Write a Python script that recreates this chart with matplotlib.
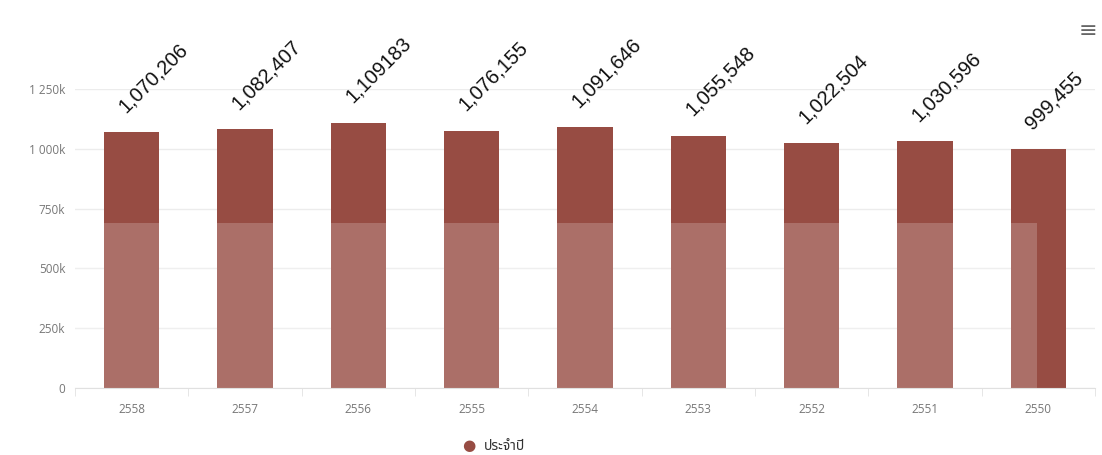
import matplotlib
matplotlib.use("Agg")
import matplotlib.pyplot as plt
from matplotlib import font_manager
from matplotlib.ft2font import FT2Font
from matplotlib.ticker import FixedLocator

# ---- data ----
years = ["2558", "2557", "2556", "2555", "2554", "2553", "2552", "2551", "2550"]
values = [1070206, 1082407, 1109183, 1076155, 1091646, 1055548, 1022504, 1030596, 999455]
value_labels = ["1,070,206", "1,082,407", "1,109183", "1,076,155", "1,091,646",
                "1,055,548", "1,022,504", "1,030,596", "999,455"]
y_ticks = [0, 250000, 500000, 750000, 1000000, 1250000]
y_tick_labels = ["0", "250k", "500k", "750k", "1 000k", "1 250k"]
series_name = "ประจำปี"
faded_level = 688000  # lighter lower band seen in the scan

# ---- fonts ----
def font_with(ch, prefer=()):
    cands = []
    for f in font_manager.fontManager.ttflist:
        try:
            if ord(ch) in FT2Font(f.fname).get_charmap():
                cands.append(f.name)
        except Exception:
            pass
    for p in prefer:
        if p in cands:
            return p
    return cands[0] if cands else "DejaVu Sans"

thai_font = font_with("ป", prefer=("Noto Sans Thai", "Noto Sans", "Noto Sans Thai Looped"))

bar_color = "#974c43"
fig = plt.figure(figsize=(11.02, 4.55), dpi=100)
ax = fig.add_axes([75 / 1102, 67 / 455, 1020 / 1102, 299 / 455])

x = list(range(len(years)))
ax.bar(x, values, width=0.49, color=bar_color, zorder=2)
ax.fill_between([-0.5, 7.99], 0, faded_level, color="white", alpha=0.2, zorder=3, linewidth=0)

for xi, v, lab in zip(x, values, value_labels):
    ax.annotate(lab, xy=(xi, v), xytext=(-6, 19), textcoords="offset pixels",
                rotation=45, rotation_mode="anchor", ha="left", va="baseline",
                fontsize=14.5, family="Liberation Sans", color="#111111",
                annotation_clip=False, zorder=5)

ax.set_xlim(-0.5, len(years) - 0.5)
ax.set_ylim(0, 1250000)
ax.set_yticks(y_ticks)
ax.set_yticklabels(y_tick_labels, fontsize=8.5, color="#777777", family="Open Sans")
ax.set_xticks(x)
ax.set_xticklabels(years, fontsize=8.5, color="#777777", family="Open Sans")
ax.xaxis.set_minor_locator(FixedLocator([i - 0.5 for i in range(len(years) + 1)]))
ax.tick_params(axis="x", which="major", length=0, pad=11)
ax.tick_params(axis="x", which="minor", length=6, color="#e2e2e2")
ax.tick_params(axis="y", length=0, pad=7)
ax.grid(axis="y", color="#ececec", linewidth=1, zorder=0)
for s in ["top", "right", "left"]:
    ax.spines[s].set_visible(False)
ax.spines["bottom"].set_color("#e0e0e0")

# legend (bottom centre)
fig.text(469 / 1102, 9 / 455, "●", color=bar_color, fontsize=11, ha="center", va="center",
         family="DejaVu Sans")
fig.text(484 / 1102, 9 / 455, series_name, color="#333333", fontsize=10, fontweight="bold",
         ha="left", va="center", family=[thai_font, "DejaVu Sans"])

# menu icon
fig.text(1088 / 1102, 424 / 455, "≡", color="#666666", fontsize=16, ha="center", va="center",
         family="DejaVu Sans")

fig.savefig("out.png", dpi=100, facecolor="white")
